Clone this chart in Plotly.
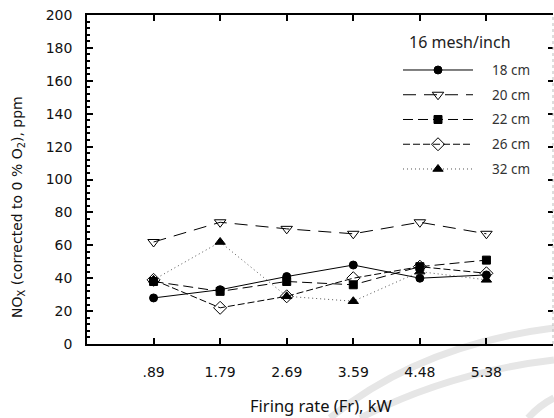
import plotly.graph_objects as go

# Firing rate categories (kW) and NOx readings (ppm, corrected to 0 % O2)
firing_rate = [".89", "1.79", "2.69", "3.59", "4.48", "5.38"]
nox_18cm = [28, 33, 41, 48, 40, 42]
nox_20cm = [62, 74, 70, 67, 74, 67]
nox_22cm = [38, 32, 38, 36, 47, 51]
nox_26cm = [39, 22, 29, 40, 47, 43]
nox_32cm = [39, 62, 29, 26, 44, 39]

series_names = ["18 cm", "20 cm", "22 cm", "26 cm", "32 cm"]
series_values = [nox_18cm, nox_20cm, nox_22cm, nox_26cm, nox_32cm]
styles = [
    dict(dash="solid", symbol="circle", size=8, lcolor="black"),
    dict(dash="13px,8px", symbol="triangle-down-open", size=10, lcolor="black"),
    dict(dash="10px,5px", symbol="square", size=8, lcolor="black"),
    dict(dash="7px,3px", symbol="diamond-open", size=10, lcolor="black"),
    dict(dash="1px,3px", symbol="triangle-up", size=9, lcolor="#555"),
]

L, T, W, H = 87, 15, 466, 329   # plot area in pixels


def px_x(p):
    return (p - L) / W


def px_y(p):
    return (T + H - p) / H


fig = go.Figure()
for name, vals, st in zip(series_names, series_values, styles):
    fig.add_trace(go.Scatter(
        x=firing_rate, y=vals, name=name, mode="lines+markers",
        line=dict(color=st["lcolor"], width=1, dash=st["dash"]),
        marker=dict(symbol=st["symbol"], size=st["size"], color="black",
                    line=dict(color="black", width=1)),
    ))

# right-hand tick axis
fig.add_trace(go.Scatter(x=firing_rate, y=nox_18cm, yaxis="y2", mode="markers",
                         marker=dict(opacity=0), hoverinfo="skip"))

# legend key: one row per series on its own small axes
row_h = 24.75
first_row = 70
key_top, key_bot = first_row - row_h / 2, first_row + 4 * row_h + row_h / 2
for i, st in enumerate(styles):
    fig.add_trace(go.Scatter(
        x=[0, 0.5, 1], y=[i, i, i], xaxis="x2", yaxis="y3",
        mode="lines+markers", hoverinfo="skip",
        line=dict(color=st["lcolor"], width=1, dash=st["dash"]),
        marker=dict(symbol=st["symbol"], size=st["size"], color="black",
                    opacity=[0, 1, 0], line=dict(color="black", width=1)),
    ))
    fig.add_annotation(
        text=series_names[i], xref="paper", yref="paper",
        x=px_x(490), y=px_y(first_row + i * row_h),
        xanchor="left", yanchor="middle", showarrow=False,
        font=dict(family="Noto Sans", size=13.5, color="#333"),
    )

fig.update_layout(
    width=554, height=418, showlegend=False,
    margin=dict(l=L, r=554 - L - W, t=T, b=418 - T - H),
    paper_bgcolor="white", plot_bgcolor="white",
    font=dict(family="DejaVu Sans", color="black"),
    xaxis=dict(
        type="category", range=[-1, 6],
        showline=True, linecolor="black", linewidth=1.5, mirror="ticks",
        ticks="inside", ticklen=6, tickcolor="black", tickwidth=1.5,
        showgrid=False, zeroline=False,
        tickfont=dict(family="DejaVu Sans", size=14, color="#111"),
        ticklabelstandoff=14,
    ),
    yaxis=dict(
        range=[0, 200], dtick=20,
        showline=True, linecolor="black", linewidth=1.5,
        ticks="inside", ticklen=6, tickcolor="black", tickwidth=1.5,
        minor=dict(dtick=4, ticks="inside", ticklen=3, tickcolor="black"),
        showgrid=False, zeroline=False,
        tickfont=dict(family="DejaVu Sans", size=14, color="#111"),
        ticklabelstandoff=10,
    ),
    yaxis2=dict(
        range=[0, 200], dtick=20, overlaying="y", side="right",
        showline=False, ticks="inside", ticklen=5, tickcolor="black",
        tickwidth=1.5, showticklabels=False, showgrid=False, zeroline=False,
    ),
    xaxis2=dict(
        domain=[px_x(403), px_x(473)], range=[0, 1], anchor="y3",
        visible=False, fixedrange=True,
    ),
    yaxis3=dict(
        domain=[px_y(key_bot), px_y(key_top)], range=[4.5, -0.5], anchor="x2",
        visible=False, fixedrange=True,
    ),
)

# faint watermark arcs behind the plot
arc_paths = [
    (330, 418, 420, 345, 554, 328),
    (360, 418, 450, 372, 554, 360),
    (528, 418, 540, 405, 554, 398),
]
for x0, y0, cx, cy, x1, y1 in arc_paths:
    fig.add_shape(
        type="path", xref="paper", yref="paper", layer="below",
        path=f"M{px_x(x0)},{px_y(y0)} Q{px_x(cx)},{px_y(cy)} {px_x(x1)},{px_y(y1)}",
        line=dict(color="#e6e6e6", width=7),
    )

# dotted right border
fig.add_shape(type="line", xref="paper", yref="paper", x0=1, x1=1, y0=0, y1=1,
              line=dict(color="#bbb", width=1, dash="dot"))

fig.add_annotation(
    text="16 mesh/inch", xref="paper", yref="paper", x=px_x(407), y=px_y(42),
    xanchor="left", yanchor="middle", showarrow=False,
    font=dict(family="Noto Sans", size=16, color="#222"),
)
fig.add_annotation(
    text="NO<sub>X</sub> (corrected to 0 % O<sub>2</sub>), ppm",
    xref="paper", yref="paper", x=px_x(18), y=px_y(207),
    textangle=-90, showarrow=False, xanchor="center", yanchor="middle",
    font=dict(family="DejaVu Sans", size=14, color="#111"),
)
fig.add_annotation(
    text="Firing rate (Fr), kW",
    xref="paper", yref="paper", x=px_x(321), y=px_y(405),
    showarrow=False, xanchor="center", yanchor="middle",
    font=dict(family="Noto Sans", size=16.5, color="#111"),
)

fig.write_html("out.html")
